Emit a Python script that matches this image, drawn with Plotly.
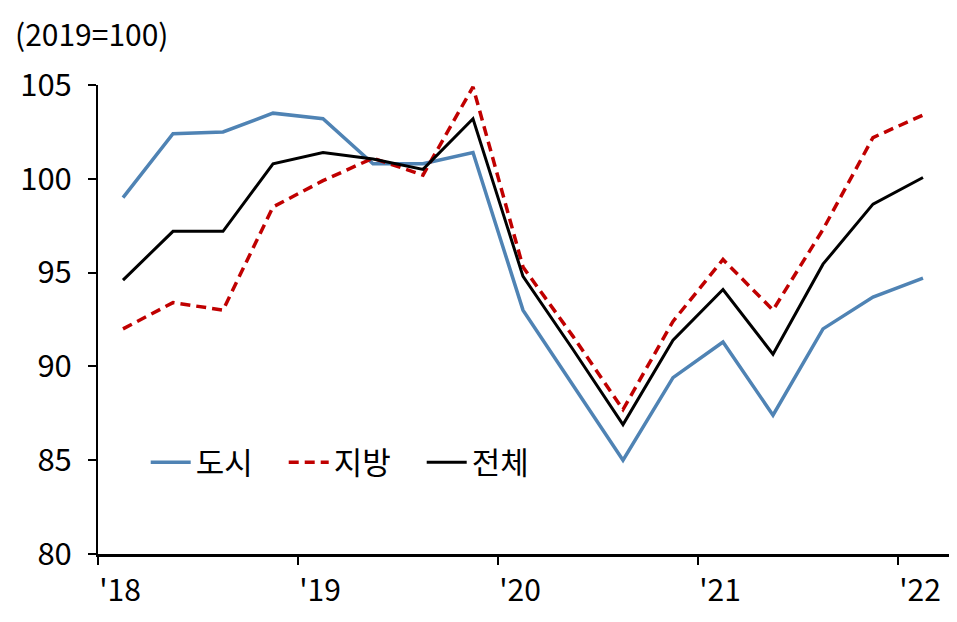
import plotly.graph_objects as go

# quarterly index, 2018Q1 ~ 2022Q1 (2019=100)
quarters = ["2018Q1", "2018Q2", "2018Q3", "2018Q4",
            "2019Q1", "2019Q2", "2019Q3", "2019Q4",
            "2020Q1", "2020Q2", "2020Q3", "2020Q4",
            "2021Q1", "2021Q2", "2021Q3", "2021Q4",
            "2022Q1"]

city = [99.0, 102.4, 102.5, 103.5, 103.2, 100.8, 100.8, 101.4,
        93.0, 89.0, 85.0, 89.4, 91.3, 87.4, 92.0, 93.7, 94.7]
region = [92.0, 93.4, 93.0, 98.5, 99.9, 101.1, 100.2, 104.9,
          95.3, 91.6, 87.7, 92.4, 95.7, 93.0, 97.3, 102.2, 103.4]
total = [94.6, 97.2, 97.2, 100.8, 101.4, 101.05, 100.5, 103.2,
         94.8, 90.9, 86.9, 91.4, 94.1, 90.65, 95.45, 98.65, 100.07]

tick_years = [2018, 2019, 2020, 2021, 2022]
tick_text = ["'18", "'19", "'20", "'21", "'22"]

# mid-quarter position on a year axis
x = [int(q[:4]) + (int(q[-1]) - 0.5) / 4 for q in quarters]

FONT = "Noto Sans CJK KR"

fig = go.Figure()
fig.add_trace(go.Scatter(x=x, y=city, name="도시", mode="lines",
                         line=dict(color="#4F83B4", width=3.5)))
fig.add_trace(go.Scatter(x=x, y=region, name="지방", mode="lines",
                         line=dict(color="#C00000", width=3.5, dash="10px,6px")))
fig.add_trace(go.Scatter(x=x, y=total, name="전체", mode="lines",
                         line=dict(color="black", width=3)))

# page body has an 8px margin, so the figure is a bit smaller than the window
fig.update_layout(
    width=949, height=614,
    margin=dict(l=90, r=7, t=77, b=68),
    paper_bgcolor="white", plot_bgcolor="white",
    font=dict(family=FONT, size=30, color="black"),
    showlegend=True,
    legend=dict(orientation="h", x=0.056, y=0.195, yanchor="middle",
                bgcolor="rgba(0,0,0,0)", font=dict(size=31),
                itemwidth=40, entrywidth=83, traceorder="normal"),
    annotations=[dict(text="(2019=100)", xref="paper", yref="paper",
                      x=-0.1, y=1.11, xanchor="left", yanchor="middle",
                      showarrow=False, font=dict(size=30))],
)
fig.update_xaxes(range=[2018, 2022.26], tickvals=tick_years, ticktext=tick_text,
                 showgrid=False, zeroline=False, showline=True,
                 linecolor="black", linewidth=3, ticks="outside",
                 ticklen=8, tickwidth=2, tickcolor="black",
                 ticklabelshift=22, tickfont=dict(size=30))
fig.update_yaxes(range=[80, 105], dtick=5, showgrid=False, zeroline=False,
                 showline=True, linecolor="black", linewidth=2,
                 ticks="outside", ticklen=8, tickwidth=2, tickcolor="black",
                 ticklabelstandoff=10, tickfont=dict(size=31))

fig.write_html("out.html")
